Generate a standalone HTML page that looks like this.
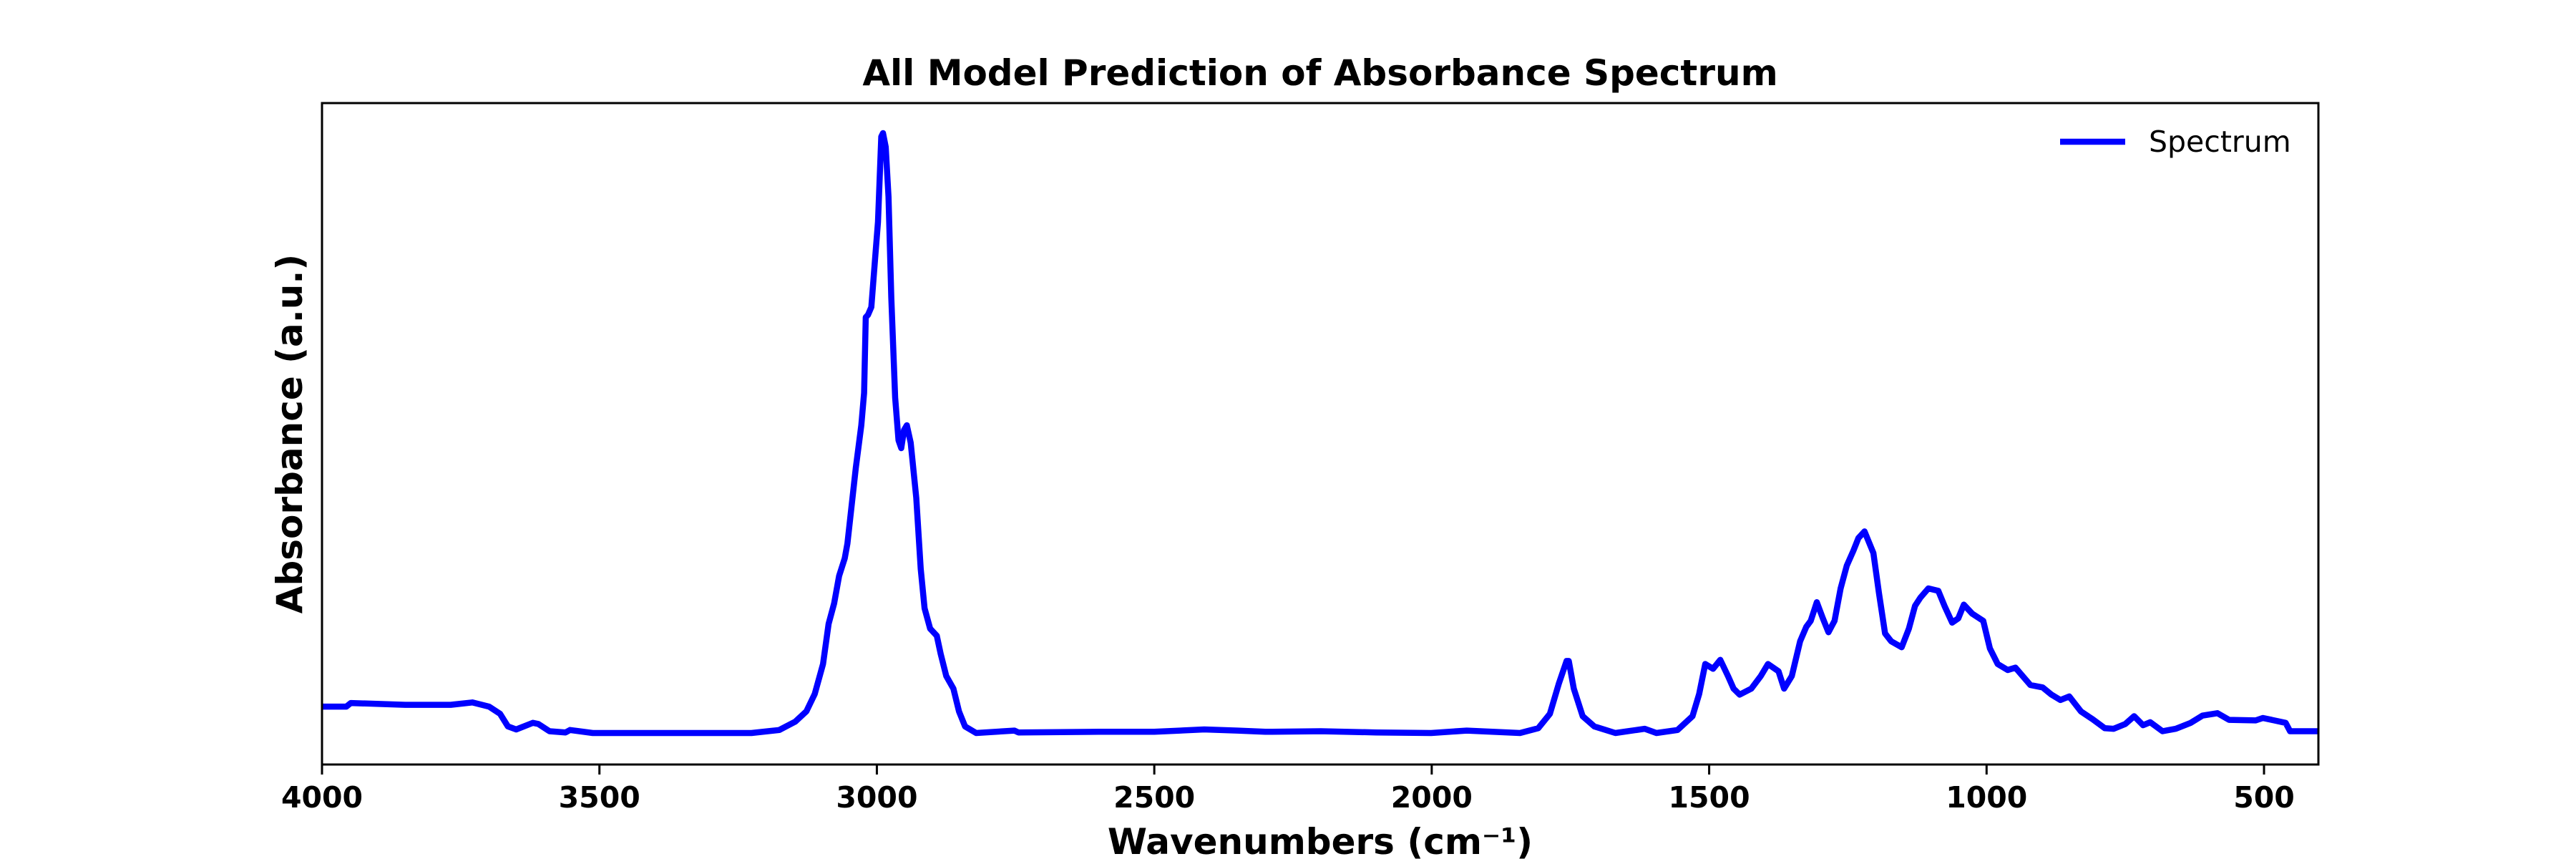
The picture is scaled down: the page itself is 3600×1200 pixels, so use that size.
<!DOCTYPE html>
<html><head><meta charset="utf-8"><style>
html,body{margin:0;padding:0;background:#fff;}
svg{display:block;font-family:"DejaVu Sans","Liberation Sans",sans-serif;}
</style></head><body>
<svg id="chart" width="3600" height="1200" viewBox="0 0 3600 1200" xmlns="http://www.w3.org/2000/svg">
<rect width="3600" height="1200" fill="#fff"/>
<text x="1845" y="119" text-anchor="middle" font-size="50" font-weight="bold">All Model Prediction of Absorbance Spectrum</text>
<g id="series"></g>
<g id="xticks"></g>
<rect x="450" y="144" width="2790" height="924" fill="none" stroke="#000" stroke-width="3"/>
<text x="1845" y="1193" text-anchor="middle" font-size="50" font-weight="bold">Wavenumbers (cm⁻¹)</text>
<text x="0" y="0" transform="translate(422,606) rotate(-90)" text-anchor="middle" font-size="50" font-weight="bold">Absorbance (a.u.)</text>
<g>
<line x1="2879" y1="198" x2="2970" y2="198" stroke="#0000ff" stroke-width="8.5"/>
<text x="3003" y="212" font-size="41">Spectrum</text>
</g>
</svg>
<script>
const wavenumbers = [4000,3956,3948,3850,3768,3729,3699,3679,3665,3650,3620,3610,3590,3561,3553,3512,3400,3300,3226,3176,3147,3127,3112,3097,3087,3077,3068,3058,3053,3048,3038,3028,3023,3020,3016,3010,3003,2998,2992,2989,2984,2979,2974,2967,2961,2956,2951,2946,2939,2929,2921,2914,2904,2892,2885,2875,2862,2852,2841,2821,2752,2745,2600,2500,2410,2350,2300,2200,2100,2001,1937,1841,1808,1787,1771,1757,1753,1744,1728,1707,1669,1616,1595,1557,1530,1518,1507,1493,1480,1466,1456,1445,1424,1407,1394,1375,1365,1351,1336,1325,1317,1306,1295,1285,1274,1263,1252,1240,1231,1220,1204,1194,1183,1172,1153,1140,1129,1119,1105,1087,1076,1062,1051,1041,1026,1006,994,980,962,948,921,899,883,867,851,830,809,787,771,750,734,718,705,683,659,632,611,584,563,515,502,461,453,402];
const absorbance = [0.044,0.044,0.05,0.047,0.047,0.051,0.044,0.032,0.011,0.006,0.017,0.015,0.003,0.001,0.005,0,0,0,0,0.005,0.019,0.036,0.065,0.115,0.182,0.216,0.262,0.291,0.316,0.358,0.442,0.513,0.567,0.693,0.697,0.71,0.793,0.852,0.994,1.0,0.977,0.894,0.726,0.559,0.488,0.475,0.505,0.513,0.484,0.392,0.274,0.208,0.174,0.162,0.132,0.095,0.074,0.036,0.011,0,0.004,0.001,0.002,0.002,0.006,0.004,0.002,0.003,0.001,0,0.004,0,0.008,0.032,0.082,0.12,0.12,0.074,0.028,0.011,0,0.007,0,0.005,0.028,0.065,0.115,0.107,0.122,0.095,0.074,0.064,0.074,0.095,0.115,0.103,0.074,0.095,0.153,0.177,0.187,0.218,0.191,0.168,0.187,0.241,0.279,0.304,0.325,0.336,0.3,0.233,0.166,0.153,0.143,0.174,0.212,0.226,0.241,0.237,0.212,0.184,0.191,0.214,0.199,0.187,0.141,0.115,0.105,0.109,0.08,0.076,0.064,0.055,0.061,0.036,0.023,0.008,0.007,0.015,0.028,0.013,0.018,0.003,0.007,0.017,0.029,0.033,0.022,0.021,0.025,0.017,0.003,0.003];
const xTickValues = [4000,3500,3000,2500,2000,1500,1000,500];
const xTickLabels = ["4000","3500","3000","2500","2000","1500","1000","500"];

const NS = "http://www.w3.org/2000/svg";
const xScale = v => 450 + (4000 - v) * (2714 / 3500);
const yScale = a => 1024 - a * 838;

const series = document.getElementById('series');
let d = '';
for (let i = 0; i < wavenumbers.length; i++) {
  d += (i ? 'L' : 'M') + xScale(wavenumbers[i]).toFixed(1) + ' ' + yScale(absorbance[i]).toFixed(1);
}
const path = document.createElementNS(NS, 'path');


path.setAttribute('d', d);
path.setAttribute('fill', 'none');
path.setAttribute('stroke', '#0000ff');
path.setAttribute('stroke-width', '8.5');
path.setAttribute('stroke-linejoin', 'round');
series.appendChild(path);

const xt = document.getElementById('xticks');
xTickValues.forEach((v, i) => {
  const x = xScale(v);
  const t = document.createElementNS(NS, 'line');
  
  
  t.setAttribute('x1', x); t.setAttribute('x2', x);
  t.setAttribute('y1', 1068); t.setAttribute('y2', 1082);
  t.setAttribute('stroke', '#000'); t.setAttribute('stroke-width', '3');
  xt.appendChild(t);
  const l = document.createElementNS(NS, 'text');
  
  
  l.setAttribute('x', x); l.setAttribute('y', 1128);
  l.setAttribute('text-anchor', 'middle');
  l.setAttribute('font-size', '41');
  l.setAttribute('font-weight', 'bold');
  l.textContent = xTickLabels[i];
  xt.appendChild(l);
});
</script>
</body></html>
